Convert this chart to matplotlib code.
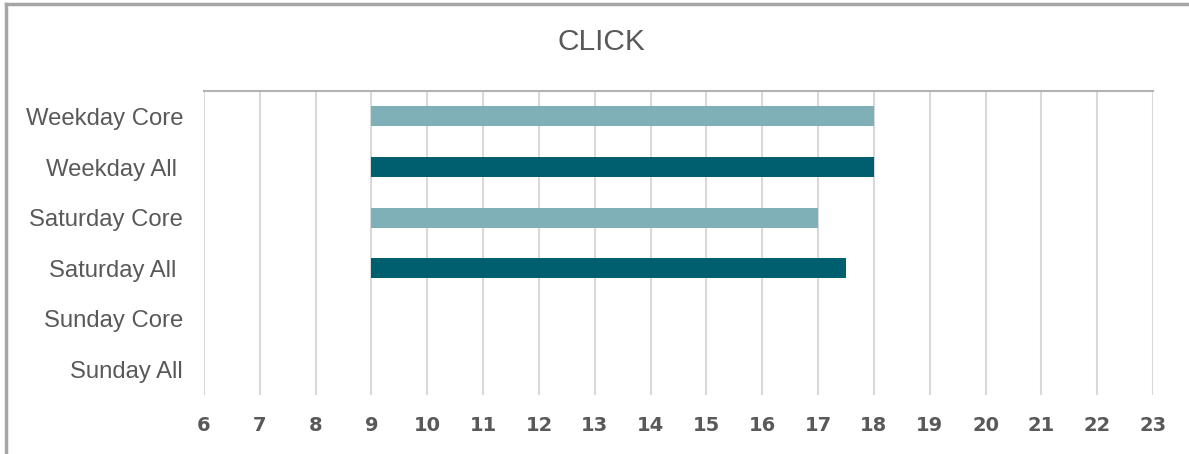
import numpy as np
import matplotlib.pyplot as plt
from matplotlib.lines import Line2D

categories = ["Weekday Core", "Weekday All ", "Saturday Core", "Saturday All ", "Sunday Core", "Sunday All"]
start_hour = [9, 9, 9, 9, np.nan, np.nan]
end_hour = [18, 18, 17, 17.5, np.nan, np.nan]
bar_colors = ["#7fafb7", "#005f6e", "#7fafb7", "#005f6e", "#7fafb7", "#005f6e"]
x_ticks = list(range(6, 24))

fig = plt.figure(figsize=(11.89, 4.54), dpi=100)
ax = fig.add_axes([204 / 1189, 1 - 395 / 454, (1153 - 204) / 1189, (395 - 91) / 454])

y = np.arange(len(categories))
widths = np.array(end_hour) - np.array(start_hour)
ax.barh(y, widths, left=start_hour, height=0.4, color=bar_colors, zorder=3)

ax.set_xlim(6, 23)
ax.set_ylim(len(categories) - 0.5, -0.5)
ax.set_xticks(x_ticks)
ax.set_yticks(y)
ax.set_yticklabels(categories, fontsize=17.2, color="#595959", fontfamily="Liberation Sans")
ax.set_xticklabels([str(t) for t in x_ticks], fontsize=14, fontweight="bold",
                   color="#595959", fontfamily="DejaVu Sans")
ax.tick_params(axis="y", length=0, pad=15)
ax.tick_params(axis="x", length=0, pad=15)

ax.grid(axis="x", color="#d9d9d9", linewidth=1.5, zorder=0)
for side in ["left", "right", "bottom"]:
    ax.spines[side].set_visible(False)
ax.spines["top"].set_color("#b3b3b3")
ax.spines["top"].set_linewidth(1.5)

fig.text(601 / 1189, 1 - 42 / 454, "CLICK", ha="center", va="center",
         fontsize=21.5, color="#595959", fontfamily="Liberation Sans")

# outer frame (left and top edges only visible)
fig.add_artist(Line2D([6 / 1189, 6 / 1189], [0, 1 - 4 / 454], transform=fig.transFigure,
                      color="#a6a6a6", linewidth=2.5))
fig.add_artist(Line2D([6 / 1189, 1], [1 - 4 / 454, 1 - 4 / 454], transform=fig.transFigure,
                      color="#a6a6a6", linewidth=2.5))

fig.savefig("out.png", dpi=100)
